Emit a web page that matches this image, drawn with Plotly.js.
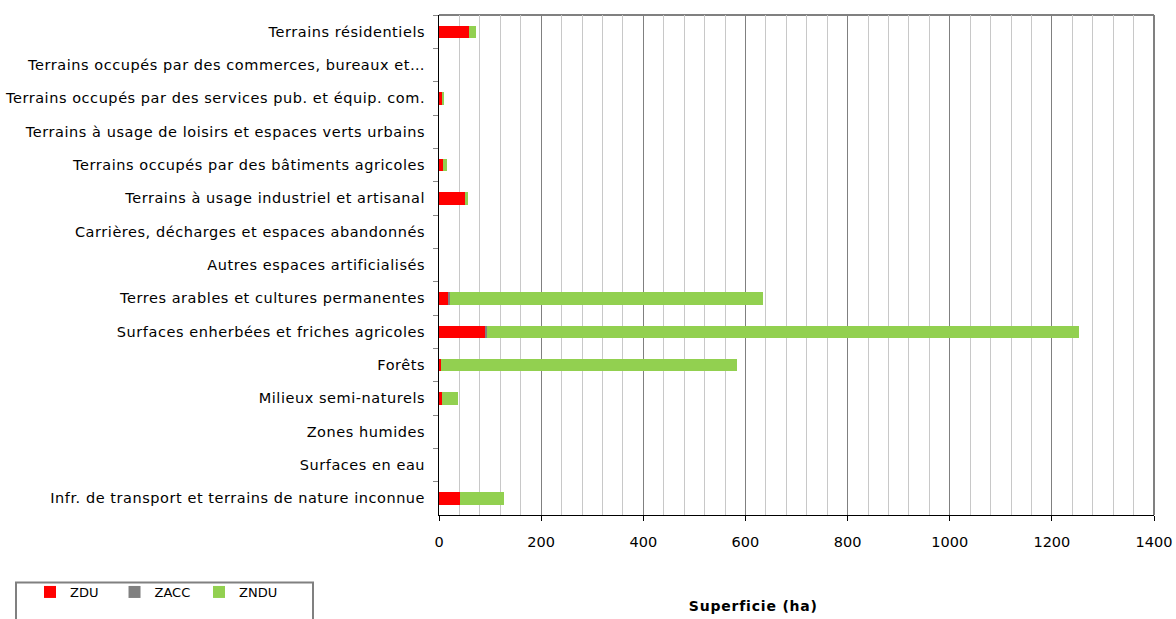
<!DOCTYPE html>
<html>
<head>
<meta charset="utf-8">
<script src="https://cdn.plot.ly/plotly-3.0.1.min.js"></script>
<style>
html,body{margin:0;padding:0;background:#fff;}
#chart{width:1176px;height:619px;}
#chart .ytick text{letter-spacing:0.55px;}
#chart .annotation-text{letter-spacing:0.8px;}
</style>
</head>
<body>
<div id="chart"></div>
<script>
const categories = [
  "Terrains résidentiels",
  "Terrains occupés par des commerces, bureaux et…",
  "Terrains occupés par des services pub. et équip. com.",
  "Terrains à usage de loisirs et espaces verts urbains",
  "Terrains occupés par des bâtiments agricoles",
  "Terrains à usage industriel et artisanal",
  "Carrières, décharges et espaces abandonnés",
  "Autres espaces artificialisés",
  "Terres arables et cultures permanentes",
  "Surfaces enherbées et friches agricoles",
  "Forêts",
  "Milieux semi-naturels",
  "Zones humides",
  "Surfaces en eau",
  "Infr. de transport et terrains de nature inconnue"
];
const zdu  = [59, 0, 6.5, 0, 8, 51, 0, 0, 18, 90, 4, 6, 0, 0, 42];
const zacc = [0, 0, 0, 0, 0, 0, 0, 0, 3, 4, 0, 0, 0, 0, 0];
const zndu = [14, 0.5, 2.5, 0.5, 7, 5, 0, 0, 614, 1160, 580, 31, 0.8, 0, 86];
const xTicks = [0, 200, 400, 600, 800, 1000, 1200, 1400];
const xTitle = "Superficie (ha)";

const FAM = "DejaVu Sans, Verdana, sans-serif";

function bar(name, vals, color) {
  return {type: "bar", orientation: "h", name: name, y: categories, x: vals,
          marker: {color: color}, hoverinfo: "x+y+name"};
}
const data = [
  bar("ZDU", zdu, "#FF0000"),
  bar("ZACC", zacc, "#808080"),
  bar("ZNDU", zndu, "#92D050")
];

const layout = {
  width: 1176, height: 619,
  margin: {l: 439, r: 22, t: 15, b: 100},
  paper_bgcolor: "#fff", plot_bgcolor: "#fff",
  font: {family: FAM, size: 13, color: "#000"},
  barmode: "stack",
  bargap: 0.63,
  showlegend: true,
  legend: {orientation: "h", x: -0.572, xanchor: "left", y: -0.124, yanchor: "top",
           font: {family: FAM, size: 13, color: "#000"},
           bgcolor: "rgba(0,0,0,0)",
           entrywidth: 39.5, entrywidthmode: "pixels", traceorder: "normal", borderwidth: 0},
  xaxis: {
    range: [0, 1400], tickvals: xTicks, ticktext: xTicks.map(String),
    showgrid: true, gridcolor: "#808080", gridwidth: 1,
    minor: {dtick: 40, tick0: 0, showgrid: true, gridcolor: "#C8C8C8", gridwidth: 1, ticks: ""},
    showline: true, linecolor: "#000", linewidth: 1,
    ticks: "outside", ticklen: 5, tickcolor: "#000",
    ticklabelstandoff: 9,
    zeroline: false, fixedrange: true,
    tickfont: {family: FAM, size: 14.5, color: "#000"}
  },
  yaxis: {
    type: "category", autorange: "reversed",
    showgrid: false, showline: true, linecolor: "#000", linewidth: 1,
    ticks: "outside", tickson: "boundaries", ticklen: 5, tickcolor: "#888",
    ticklabelstandoff: 10,
    tickfont: {family: FAM, size: 14.5, color: "#000"},
    fixedrange: true
  },
  annotations: [
    {text: "<b>" + xTitle + "</b>", xref: "paper", yref: "paper",
     x: (753 - 439) / 715, y: (519 - 611) / 504, xanchor: "center", yanchor: "middle",
     showarrow: false, font: {family: FAM, size: 14, color: "#000"}}
  ],
  shapes: [
    {type: "line", xref: "paper", yref: "paper", x0: 0, x1: 1, y0: 1, y1: 1,
     line: {color: "#808080", width: 2}, layer: "below"},
    {type: "line", xref: "paper", yref: "paper", x0: 1, x1: 1, y0: 0, y1: 1,
     line: {color: "#808080", width: 2}, layer: "below"},
    {type: "rect", xref: "paper", yref: "paper",
     x0: (16 - 439) / 715, x1: (313 - 439) / 715, y0: -0.25, y1: (519 - 587) / 504,
     line: {color: "#808080", width: 2}, layer: "above"}
  ]
};

Plotly.newPlot("chart", data, layout, {displayModeBar: false, staticPlot: true});
</script>
</body>
</html>
